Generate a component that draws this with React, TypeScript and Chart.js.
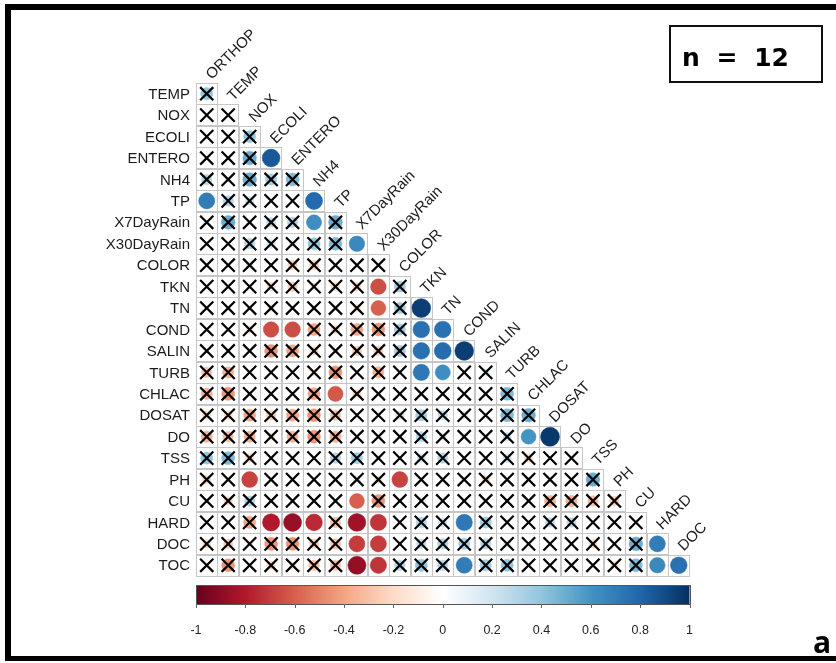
import React, { useEffect, useRef } from "react";
import { Chart, registerables } from "chart.js";

Chart.register(...registerables);

// ---- categories ----
const variables = [
  "ORTHOP", "TEMP", "NOX", "ECOLI", "ENTERO", "NH4", "TP", "X7DayRain", "X30DayRain",
  "COLOR", "TKN", "TN", "COND", "SALIN", "TURB", "CHLAC", "DOSAT", "DO", "TSS", "PH",
  "CU", "HARD", "DOC", "TOC",
];
const rowLabels = variables.slice(1);
const colLabels = variables.slice(0, variables.length - 1);

// ---- lower-triangle correlations (row i has columns 0..i) ----
const corrTEMP = [0.4];
const corrNOX = [0.05, -0.05];
const corrECOLI = [0.05, -0.05, 0.4];
const corrENTERO = [0.05, 0.02, 0.5, 0.85];
const corrNH4 = [0.3, 0.1, 0.5, 0.35, 0.45];
const corrTP = [0.7, 0.3, 0.2, 0.05, 0.05, 0.78];
const corrX7DayRain = [0.05, 0.5, 0.05, 0.25, 0.3, 0.62, 0.5];
const corrX30DayRain = [0.05, 0.05, 0.3, 0.2, 0.15, 0.4, 0.45, 0.65];
const corrCOLOR = [0.02, 0.0, 0.15, 0.05, -0.25, -0.25, 0.05, -0.05, 0.02];
const corrTKN = [0.02, 0.05, 0.05, -0.2, -0.25, -0.15, -0.2, -0.2, -0.65, 0.35];
const corrTN = [0.02, 0.05, 0.05, -0.15, -0.05, -0.1, -0.1, -0.15, -0.6, 0.35, 0.95];
const corrCOND = [0.02, 0.05, -0.15, -0.65, -0.65, -0.4, -0.2, -0.4, -0.45, 0.35, 0.75, 0.75];
const corrSALIN = [0.05, 0.05, 0.05, -0.45, -0.4, -0.2, -0.1, -0.25, -0.25, 0.35, 0.75, 0.77, 0.95];
const corrTURB = [-0.3, -0.35, 0.05, 0.02, 0.05, -0.15, -0.45, 0.02, -0.35, 0.05, 0.72, 0.62, 0.05, 0.15];
const corrCHLAC = [-0.35, -0.45, 0.05, 0.02, 0.05, -0.4, -0.62, -0.2, 0.05, 0.02, 0.05, 0.02, 0.05, 0.05, 0.45];
const corrDOSAT = [-0.2, -0.2, -0.4, -0.25, -0.4, -0.45, -0.3, -0.05, -0.05, 0.2, 0.35, 0.25, 0.15, 0.05, 0.45, 0.5];
const corrDO = [-0.35, -0.3, -0.35, -0.15, -0.35, -0.45, -0.35, 0.05, 0.02, 0.05, 0.3, 0.15, 0.1, 0.05, 0.2, 0.6, 0.97];
const corrTSS = [0.4, 0.45, -0.2, 0.05, 0.02, 0.05, 0.3, 0.35, 0.1, 0.02, 0.2, 0.3, 0.05, 0.02, 0.2, -0.2, 0.05, 0.02];
const corrPH = [-0.2, 0.05, -0.68, 0.02, 0.05, 0.05, 0.05, 0.15, -0.15, -0.68, 0.02, 0.05, -0.1, -0.2, 0.02, 0.05, 0.02, 0.05, 0.5];
const corrCU = [0.05, -0.2, 0.3, 0.02, 0.05, 0.05, 0.02, -0.6, -0.45, 0.02, 0.05, 0.02, 0.05, 0.02, 0.05, 0.02, -0.35, -0.35, -0.3, -0.25];
const corrHARD = [0.02, 0.05, -0.4, -0.8, -0.87, -0.75, -0.3, -0.85, -0.72, 0.05, 0.3, 0.2, 0.72, 0.35, 0.05, 0.02, 0.25, 0.25, 0.05, 0.02, 0.05];
const corrDOC = [-0.2, -0.25, -0.1, -0.45, -0.45, -0.25, -0.3, -0.7, -0.7, 0.05, 0.25, 0.3, 0.35, 0.3, 0.15, 0.05, 0.02, 0.05, -0.2, 0.05, 0.5, 0.7];
const corrTOC = [0.02, -0.45, 0.05, -0.2, -0.15, -0.3, -0.3, -0.88, -0.72, 0.3, 0.4, 0.3, 0.7, 0.35, 0.4, 0.05, 0.02, 0.05, 0.02, -0.15, 0.45, 0.65, 0.75];

const corrRows = [
  corrTEMP, corrNOX, corrECOLI, corrENTERO, corrNH4, corrTP, corrX7DayRain, corrX30DayRain,
  corrCOLOR, corrTKN, corrTN, corrCOND, corrSALIN, corrTURB, corrCHLAC, corrDOSAT, corrDO,
  corrTSS, corrPH, corrCU, corrHARD, corrDOC, corrTOC,
];

const sampleSize = 12;
const criticalR = 0.576; // |r| needed for p < 0.05 with n = 12

// ---- colour bar ----
const colorbarTicks = [-1, -0.8, -0.6, -0.4, -0.2, 0, 0.2, 0.4, 0.6, 0.8, 1];
const colorbarTickLabels = ["-1", "-0.8", "-0.6", "-0.4", "-0.2", "0", "0.2", "0.4", "0.6", "0.8", "1"];
const paletteRdBu = [
  "#67001F", "#B2182B", "#D6604D", "#F4A582", "#FDDBC7", "#FFFFFF",
  "#D1E5F0", "#92C5DE", "#4393C3", "#2166AC", "#053061",
];

function hexToRgb(h: string) {
  const n = parseInt(h.slice(1), 16);
  return [(n >> 16) & 255, (n >> 8) & 255, n & 255];
}
function colorFor(v: number) {
  const t = ((v + 1) / 2) * (paletteRdBu.length - 1);
  const i = Math.max(0, Math.min(paletteRdBu.length - 2, Math.floor(t)));
  const f = t - i;
  const a = hexToRgb(paletteRdBu[i]);
  const b = hexToRgb(paletteRdBu[i + 1]);
  const c = a.map((x, k) => Math.round(x + (b[k] - x) * f));
  return `rgb(${c[0]},${c[1]},${c[2]})`;
}

const LABEL_FONT = '15px "Liberation Sans", Arial, sans-serif';

const gridPlugin = {
  id: "cellGrid",
  beforeDatasetsDraw(chart: any) {
    const { ctx, scales } = chart;
    const x = scales.x, y = scales.y;
    const hw = Math.abs(x.getPixelForValue(1) - x.getPixelForValue(0)) / 2;
    const hh = Math.abs(y.getPixelForValue(1) - y.getPixelForValue(0)) / 2;
    ctx.save();
    ctx.strokeStyle = "#c6c6c6";
    ctx.lineWidth = 1;
    corrRows.forEach((row, r) => {
      row.forEach((_v, c) => {
        const px = x.getPixelForValue(c);
        const py = y.getPixelForValue(r);
        ctx.strokeRect(Math.round(px - hw) + 0.5, Math.round(py - hh) + 0.5, Math.round(2 * hw), Math.round(2 * hh));
      });
    });
    ctx.restore();
  },
};

const labelPlugin = {
  id: "corrLabels",
  afterDraw(chart: any) {
    const { ctx, scales } = chart;
    const x = scales.x, y = scales.y;
    const hh = Math.abs(y.getPixelForValue(1) - y.getPixelForValue(0)) / 2;
    ctx.save();
    ctx.font = LABEL_FONT;
    ctx.fillStyle = "#1c1c1c";
    // row labels
    ctx.textAlign = "right";
    ctx.textBaseline = "middle";
    const left = x.getPixelForValue(-0.5);
    rowLabels.forEach((lab, r) => {
      ctx.fillText(lab, left - 6, y.getPixelForValue(r) + 1);
    });
    // column labels (diagonal)
    ctx.textAlign = "left";
    ctx.textBaseline = "alphabetic";
    colLabels.forEach((lab, c) => {
      const px = x.getPixelForValue(c);
      const top = y.getPixelForValue(c) - hh;
      ctx.save();
      ctx.translate(px + 5, top - 3);
      ctx.rotate(-Math.PI / 4);
      ctx.fillText(lab, 0, 0);
      ctx.restore();
    });

    // colour bar
    const l = x.getPixelForValue(-0.5);
    const rgt = x.getPixelForValue(corrRows.length - 0.5);
    const bTop = y.getPixelForValue(corrRows.length - 0.5) + 9;
    const bH = 19;
    const grad = ctx.createLinearGradient(l, 0, rgt, 0);
    paletteRdBu.forEach((col, i) => grad.addColorStop(i / (paletteRdBu.length - 1), col));
    ctx.fillStyle = grad;
    ctx.fillRect(l, bTop, rgt - l, bH);
    ctx.strokeStyle = "#555";
    ctx.lineWidth = 1;
    ctx.strokeRect(Math.round(l) + 0.5, Math.round(bTop) + 0.5, Math.round(rgt - l), bH);
    ctx.font = '12.5px "Liberation Sans", Arial, sans-serif';
    ctx.fillStyle = "#222";
    ctx.textAlign = "center";
    ctx.textBaseline = "middle";
    colorbarTicks.forEach((t, i) => {
      const tx = l + ((t + 1) / 2) * (rgt - l);
      ctx.beginPath();
      ctx.moveTo(Math.round(tx) + 0.5, bTop + bH);
      ctx.lineTo(Math.round(tx) + 0.5, bTop + bH + 4);
      ctx.strokeStyle = "#666";
      ctx.stroke();
      ctx.fillText(colorbarTickLabels[i], tx, bTop + bH + 27);
    });
    ctx.restore();
  },
};

export default function App() {
  const ref = useRef<HTMLCanvasElement | null>(null);

  useEffect(() => {
    if (!ref.current) return;
    const cells: { x: number; y: number; v: number }[] = [];
    corrRows.forEach((row, r) => row.forEach((v, c) => cells.push({ x: c, y: r, v })));
    const insignificant = cells.filter((p) => Math.abs(p.v) < criticalR);

    const cellPx = (chart: any) =>
      Math.abs(chart.scales.x.getPixelForValue(1) - chart.scales.x.getPixelForValue(0));

    const chart = new Chart(ref.current, {
      type: "scatter",
      data: {
        datasets: [
          {
            label: "insignificant",
            data: insignificant as any,
            order: 0,
            pointStyle: "crossRot",
            pointRadius: 9.3,
            pointBorderColor: "#000",
            pointBorderWidth: 2.2,
            pointBackgroundColor: "#000",
          } as any,
          {
            label: "r",
            data: cells as any,
            order: 1,
            pointStyle: "circle",
            pointRadius: (ctx: any) =>
              ctx.raw ? 0.45 * Math.sqrt(Math.abs(ctx.raw.v)) * cellPx(ctx.chart) : 0,
            pointBackgroundColor: (ctx: any) => (ctx.raw ? colorFor(ctx.raw.v) : "#fff"),
            pointBorderColor: (ctx: any) => (ctx.raw ? colorFor(ctx.raw.v) : "#fff"),
            pointBorderWidth: 0.5,
          } as any,
        ],
      },
      options: {
        animation: false,
        responsive: false,
        events: [],
        layout: { padding: { left: 196, right: 146.5, top: 83, bottom: 87 } },
        plugins: { legend: { display: false }, tooltip: { enabled: false } },
        scales: {
          x: { type: "linear", min: -0.5, max: corrRows.length - 0.5, display: false },
          y: { type: "linear", min: -0.5, max: corrRows.length - 0.5, reverse: true, display: false },
        },
      },
      plugins: [gridPlugin, labelPlugin],
    });
    return () => chart.destroy();
  }, []);

  return (
    <div
      style={{
        position: "fixed",
        left: 0,
        top: 0,
        width: 836,
        height: 663,
        overflow: "hidden",
        background: "#fff",
      }}
    >
      <canvas ref={ref} width={836} height={663} style={{ position: "absolute", left: 0, top: 0 }} />
      <div
        style={{
          position: "absolute",
          left: 5,
          top: 4,
          width: 900,
          height: 657,
          boxSizing: "border-box",
          borderTop: "6px solid #000",
          borderLeft: "6px solid #000",
          borderBottom: "5px solid #000",
        }}
      />
      <div
        style={{
          position: "absolute",
          left: 669,
          top: 25,
          width: 154,
          height: 58,
          boxSizing: "border-box",
          border: "2px solid #111",
          display: "flex",
          alignItems: "center",
          justifyContent: "flex-start",
          paddingLeft: 11,
          paddingTop: 6,
          fontFamily: '"DejaVu Sans", "Open Sans", sans-serif',
          fontWeight: 700,
          fontSize: 25,
          wordSpacing: 8,
          whiteSpace: "pre",
          color: "#000",
        }}
      >
        {`n = ${sampleSize}`}
      </div>
      <div
        style={{
          position: "absolute",
          left: 813,
          top: 624,
          fontFamily: '"Open Sans", "DejaVu Sans", sans-serif',
          fontWeight: 700,
          fontSize: 30,
          lineHeight: "36px",
          color: "#000",
        }}
      >
        a
      </div>
    </div>
  );
}
